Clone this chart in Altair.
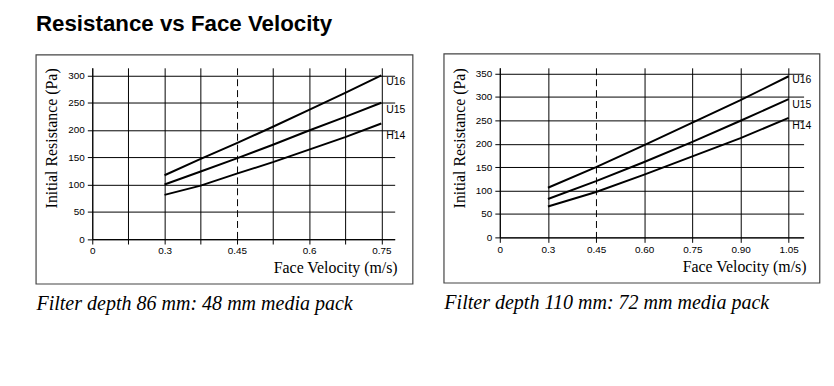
import altair as alt
import pandas as pd

series_names = ["U16", "U15", "H14"]

left_velocity = [0.3, 0.375, 0.45, 0.525, 0.6, 0.675, 0.75]
left_u16 = [117, 147, 176, 206, 237, 268, 300]
left_u15 = [100, 124, 148, 173, 199, 224, 250]
left_h14 = [81, 98, 120, 141, 164, 187, 212]

right_velocity = [0.3, 0.45, 0.6, 0.75, 0.9, 1.05]
right_u16 = [106, 150, 197, 245, 293, 344]
right_u15 = [82, 120, 161, 204, 249, 295]
right_h14 = [66, 97, 134, 173, 212, 255]

left_tick_labels = ["0", "", "0.3", "", "0.45", "", "0.6", "", "0.75"]
right_tick_labels = ["0", "0.3", "0.45", "0.60", "0.75", "0.90", "1.05"]
left_y_ticks = [0, 50, 100, 150, 200, 250, 300]
right_y_ticks = [0, 50, 100, 150, 200, 250, 300, 350]

title_text = "Resistance vs Face Velocity"
left_caption = "Filter depth 86 mm: 48 mm media pack"
right_caption = "Filter depth 110 mm: 72 mm media pack"
x_title = "Face Velocity (m/s)"
y_title = "Initial Resistance (Pa)"

SANS = "Liberation Sans"
SERIF = "Liberation Serif"


def panel(velocity, series_vals, tick_labels, y_ticks, pos_expr, dash_idx,
          x_max, y_max, width, height, box, label_dx, label_dys, caption):
    rows = []
    for name, vals in zip(series_names, series_vals):
        for v, r in zip(velocity, vals):
            rows.append({"series": name, "velocity": v, "resistance": r})
    df = pd.DataFrame(rows)
    labels_js = "[" + ",".join("'" + t + "'" for t in tick_labels) + "]"

    x_enc = alt.X(
        "pos:Q",
        scale=alt.Scale(domain=[0, x_max], nice=False, zero=False),
        axis=alt.Axis(
            values=list(range(len(tick_labels))),
            labelExpr=labels_js + "[datum.value]",
            title=x_title,
            titleAnchor="end",
            titleAlign="right",
            titleX=width + 2.5,
            titlePadding=4,
            grid=True,
            gridColor="black",
            gridWidth=1,
            gridDash={"condition": {"test": "datum.value == " + str(dash_idx), "value": [7, 4]}, "value": []},
            labelFlush=False,
        ),
    )
    y_enc = alt.Y(
        "resistance:Q",
        scale=alt.Scale(domain=[0, y_max], nice=False),
        axis=alt.Axis(
            values=y_ticks,
            title=y_title,
            titleAnchor="end",
            titlePadding=8,
            labelPadding=3,
            grid=True,
            gridColor="black",
            gridWidth=1,
            labelOverlap=False,
        ),
    )
    base = alt.Chart(df).transform_calculate(pos=pos_expr)

    lines = base.mark_line(color="black", strokeWidth=2).encode(
        x=x_enc, y=y_enc, detail="series:N"
    )

    x1, x2, y1, y2 = box
    frame = alt.Chart(pd.DataFrame({"k": [0]})).mark_rect(
        fill="white", fillOpacity=0, stroke="#444", strokeWidth=1.2
    ).encode(x=alt.value(x1), x2=alt.value(x2), y=alt.value(y1), y2=alt.value(y2))

    layers = [frame, lines]
    for name, dy in zip(series_names, label_dys):
        layers.append(
            base.transform_filter(
                (alt.datum.series == name) & (alt.datum.velocity == velocity[-1])
            ).mark_text(
                align="left", baseline="middle", dx=label_dx, dy=dy,
                font=SANS, fontSize=10.5, color="black"
            ).encode(x=x_enc, y=y_enc, text="series:N")
        )

    return alt.layer(*layers).properties(
        width=width,
        height=height,
        title=alt.TitleParams(
            caption, orient="bottom", anchor="start", font=SERIF,
            fontStyle="italic", fontWeight="normal", fontSize=20.2,
            color="black", offset=10, dx=1,
        ),
    )


left = panel(
    left_velocity, [left_u16, left_u15, left_h14], left_tick_labels, left_y_ticks,
    "2 + (datum.velocity - 0.3) / 0.075", 4,
    8.37, 314, 305, 172.7, (-56.7, 323.3, -13, 218), 5, [6.6, 7.8, 13], left_caption,
)
right = panel(
    right_velocity, [right_u16, right_u15, right_h14], right_tick_labels, right_y_ticks,
    "1 + (datum.velocity - 0.3) / 0.15", 2,
    6.31, 362, 306.4, 171, (-56.3, 322.7, -14, 217), 3.5, [4.2, 5.4, 8.5], right_caption,
)

chart = alt.hconcat(left, right, spacing=28).properties(
    title=alt.TitleParams(
        title_text, anchor="start", font=SANS, fontSize=22.5, fontWeight="bold",
        color="black", offset=18, dx=1,
    ),
    padding={"left": 27, "top": 3, "right": 5, "bottom": 5},
).configure_view(
    stroke="transparent"
).configure_axis(
    domainColor="black",
    domainWidth=1,
    tickColor="black",
    tickSize=5,
    labelColor="black",
    labelFont=SANS,
    labelFontSize=10,
    labelPadding=2,
    titleColor="black",
    titleFont=SERIF,
    titleFontSize=16,
    titleFontWeight="normal",
)

chart.save("out.html", embed_options={"renderer": "svg", "actions": False})
